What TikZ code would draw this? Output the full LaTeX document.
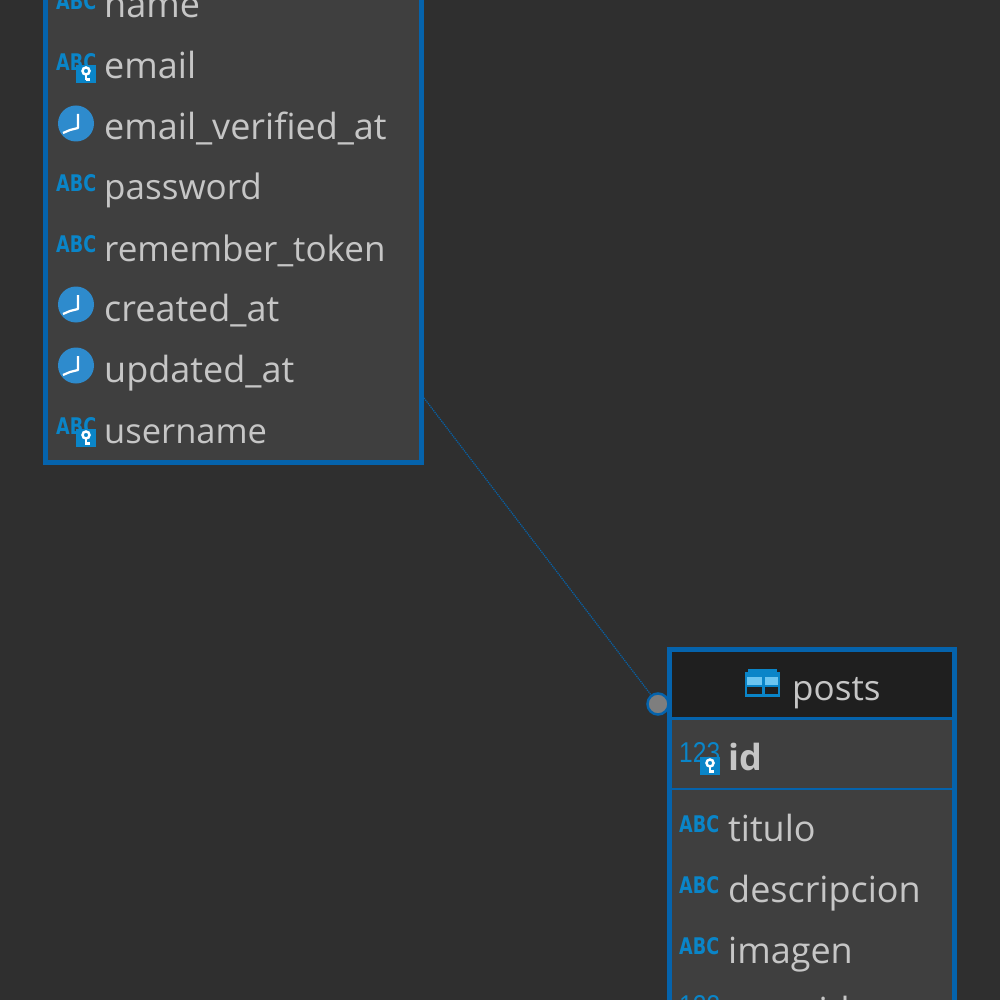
\documentclass[tikz,border=0pt]{standalone}
\usepackage{fontspec}
\usepackage{graphicx}
\setmainfont{Open Sans}
\newfontfamily\iconfont{DejaVu Sans}
\newfontfamily\numfont{Liberation Sans}
\definecolor{bgc}{HTML}{2F2F2F}
\definecolor{panelc}{HTML}{3F3F3F}
\definecolor{headc}{HTML}{1F1F1F}
\definecolor{edgec}{HTML}{0563AC}
\definecolor{iconc}{HTML}{0A85C8}
\definecolor{clockc}{HTML}{2E8BCD}
\definecolor{textc}{HTML}{C6C6C6}
\definecolor{lightc}{HTML}{6CC5F0}
\definecolor{jointc}{HTML}{7E7E7E}
\tikzset{
  tablebox/.style={draw=edgec,line width=5pt,fill=panelc,outer sep=0pt,inner sep=0pt},
  rowline/.style={draw=edgec,line width=2.5pt},
  coltext/.style={anchor=base west,inner sep=0pt,yshift=-1pt,text=textc,font=\fontsize{36}{36}\selectfont},
  narrowtext/.style={coltext,font=\fontsize{35}{35}\selectfont},
  icontext/.style={anchor=south west,inner sep=0pt,text=iconc},
  link/.style={draw=edgec,line width=1.2pt,densely dotted}
}
\newcommand{\abcicon}[2]{\node[icontext] at (#1,#2-7) {\resizebox{40pt}{17pt}{\iconfont\bfseries ABC}};}
\newcommand{\numicon}[2]{\node[icontext] at (#1,#2-6) {\resizebox{41pt}{20pt}{\numfont 123}};}
\newcommand{\keybadge}[2]{%
  \fill[iconc] (#1,#2-17) rectangle (#1+20,#2+1);
  \draw[white,line width=2.5pt] (#1+10,#2-11) circle (3.5pt);
  \draw[white,line width=2.5pt] (#1+10,#2-8) -- (#1+10,#2-1.5) (#1+10,#2-2.5) -- (#1+14,#2-2.5);
}
\newcommand{\clockicon}[2]{%
  \fill[clockc] (#1+20,#2-15.5) circle (18pt);
  \draw[white,line width=2.2pt,line join=round] (#1+22,#2-25) -- (#1+22,#2-11) -- (#1+14,#2-9) -- (#1+7,#2-6);
}
\begin{document}
\begin{tikzpicture}[x=1pt,y=-1pt]
\useasboundingbox (0,0) rectangle (1000,1000);
\clip (0,0) rectangle (1000,1000);
\fill[bgc] (0,0) rectangle (1000,1000);
% users table
\node[tablebox,anchor=south west,minimum width=376pt,minimum height=520pt] (users) at (45.5,462.5) {};
\coordinate (linkstart) at (424,398);
% posts table
\node[tablebox,anchor=north west,minimum width=285pt,minimum height=420pt] (posts) at (669.5,649) {};
\fill[headc] (672,651.5) rectangle (952,717.5);
\draw[rowline] (672,718.5) -- (952,718.5);
\draw[rowline] (672,789) -- (952,789);
\node[circle,draw=edgec,line width=2.5pt,fill=jointc,minimum size=21pt,inner sep=0pt] (joint) at (658,704) {};
\draw[link] (linkstart) -- (joint);
% users rows
\abcicon{56}{17}
\node[coltext] (name) at (104,17) {name};
\abcicon{56}{78}\keybadge{76}{82}
\node[coltext] (email) at (104,78) {email};
\clockicon{56}{139}
\node[coltext] (emailv) at (104,139) {email\_verified\_at};
\abcicon{56}{199}
\node[narrowtext] (password) at (104,199) {password};
\abcicon{56}{260}
\node[narrowtext] (remember) at (104,260) {remember\_token};
\clockicon{56}{320}
\node[coltext] (created) at (104,320) {created\_at};
\clockicon{56}{381}
\node[coltext] (updated) at (104,381) {updated\_at};
\abcicon{56}{442}\keybadge{76}{446}
\node[coltext,font=\fontsize{34.5}{35}\selectfont] (username) at (104,442) {username};
% posts rows
\fill[iconc] (745,672) rectangle (780,697);
\fill[iconc] (748,669) rectangle (777,672);
\fill[lightc] (747,677) rectangle (762,685);
\fill[lightc] (765,677) rectangle (778,685);
\fill[headc] (747,687) rectangle (762,694);
\fill[headc] (765,687) rectangle (778,694);
\node[narrowtext] (poststitle) at (792,699) {posts};
\numicon{679}{769}\keybadge{700}{774}
\node[coltext,font=\fontsize{36}{36}\selectfont\bfseries] (id) at (728,769) {id};
\abcicon{679}{840}
\node[coltext] (titulo) at (728,840) {titulo};
\abcicon{679}{901}
\node[coltext] (descripcion) at (728,901) {descripcion};
\abcicon{679}{962}
\node[coltext] (imagen) at (728,962) {imagen};
\numicon{679}{1022}
\node[coltext] (userid) at (728,1022) {user\_id};
\end{tikzpicture}
\end{document}
